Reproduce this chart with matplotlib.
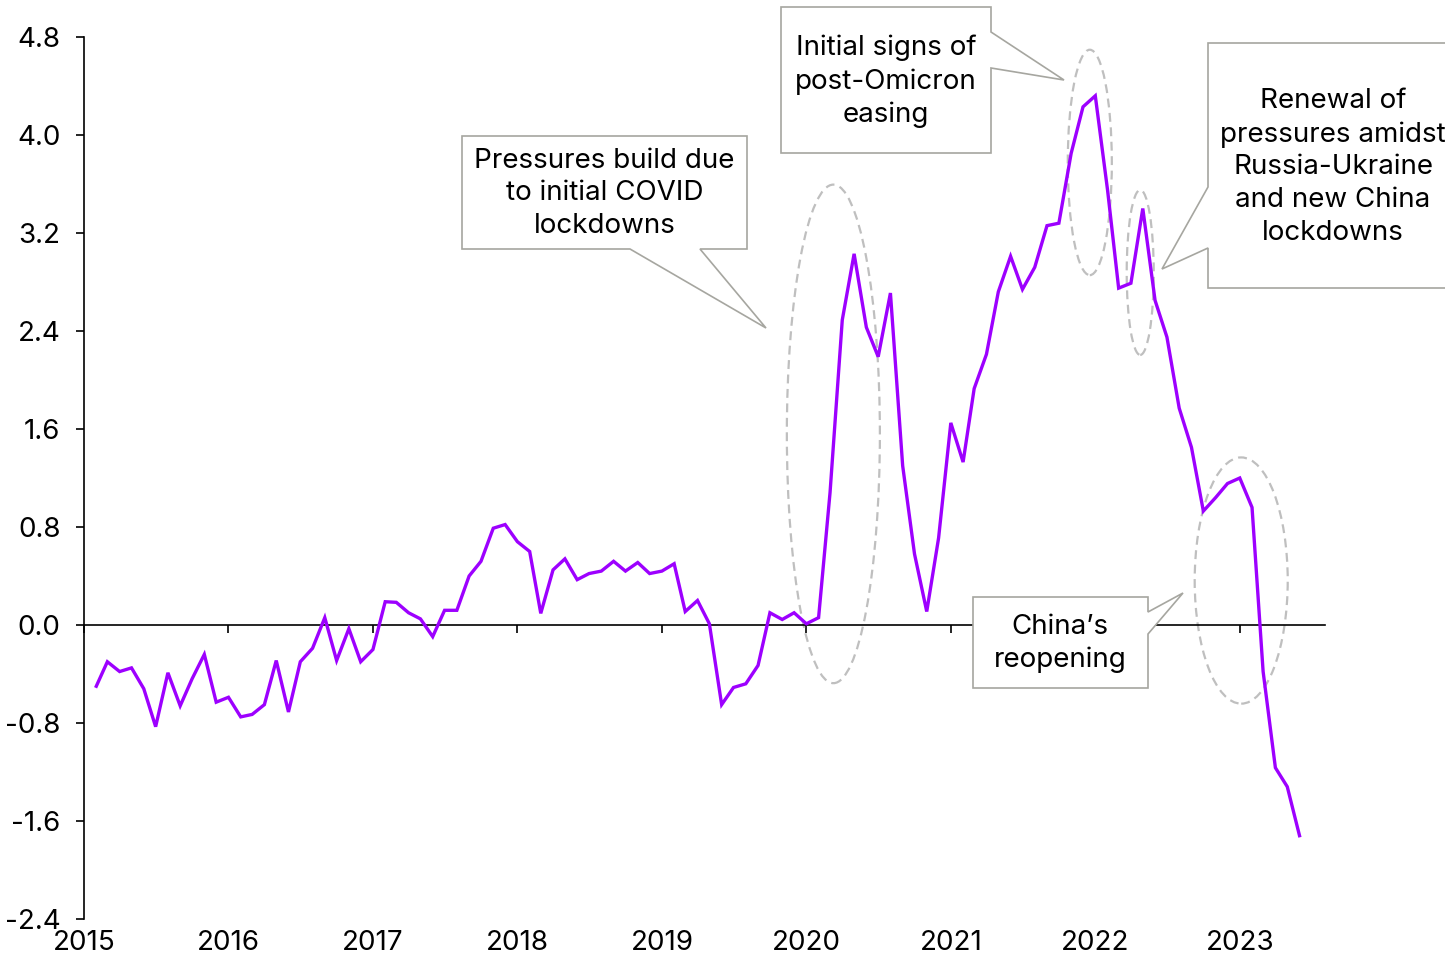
import matplotlib
matplotlib.use('Agg')
import matplotlib.pyplot as plt
from matplotlib.patches import Ellipse, Polygon
import numpy as np
import pandas as pd

plt.rcParams['font.family'] = ['Inter', 'DejaVu Sans']

# monthly index values, Jan 2015 - May 2023
values = [
    -0.50, -0.30, -0.38, -0.35, -0.52, -0.83, -0.39, -0.66, -0.44, -0.24, -0.63, -0.59,
    -0.75, -0.73, -0.65, -0.29, -0.71, -0.30, -0.19, 0.06, -0.29, -0.03, -0.30, -0.20,
    0.19, 0.185, 0.10, 0.05, -0.095, 0.12, 0.12, 0.40, 0.52, 0.79, 0.82, 0.68,
    0.60, 0.095, 0.45, 0.54, 0.37, 0.42, 0.44, 0.52, 0.44, 0.51, 0.42, 0.44,
    0.50, 0.11, 0.20, 0.01, -0.65, -0.51, -0.48, -0.33, 0.10, 0.045, 0.10, 0.01,
    0.06, 1.08, 2.49, 3.03, 2.43, 2.19, 2.71, 1.30, 0.58, 0.11, 0.71, 1.65,
    1.33, 1.93, 2.21, 2.72, 3.01, 2.74, 2.92, 3.26, 3.28, 3.85, 4.23, 4.32,
    3.55, 2.75, 2.79, 3.40, 2.65, 2.35, 1.77, 1.45, 0.93, 1.04, 1.155, 1.20,
    0.96, -0.38, -1.165, -1.32, -1.72,
]
dates = pd.date_range('2015-01-31', periods=len(values), freq='ME')
years = list(range(2015, 2024))
yticks = [-2.4, -1.6, -0.8, 0.0, 0.8, 1.6, 2.4, 3.2, 4.0, 4.8]

notes = [
    'Pressures build due\nto initial COVID\nlockdowns',
    'Initial signs of\npost-Omicron\neasing',
    'Renewal of\npressures amidst\nRussia-Ukraine\nand new China\nlockdowns',
    'China\u2019s\nreopening',
]

W, H = 1445, 957
x = dates.year + (dates.dayofyear) / np.where(dates.is_leap_year, 366, 365)

fig = plt.figure(figsize=(W / 100, H / 100), dpi=100)
ax = fig.add_axes([84 / W, 1 - 919 / H, (1325 - 84) / W, (919 - 37) / H])

ax.plot(x, values, color='#9d00ff', lw=2.4, zorder=3, solid_joinstyle='miter')

ax.set_xlim(2015, 2023.59)
ax.set_ylim(-2.4, 4.8)
ax.set_yticks(yticks)
ax.set_yticklabels([f'{v:.1f}' for v in yticks])
ax.set_xticks(years)
ax.tick_params(axis='x', labelbottom=False, direction='out', length=6, width=1.2)
ax.tick_params(axis='y', direction='out', length=6, width=1.2, pad=11, labelsize=20)
ax.spines['bottom'].set_position(('data', 0))
ax.spines['bottom'].set_linewidth(1.2)
ax.spines['left'].set_linewidth(1.2)
ax.spines['top'].set_visible(False)
ax.spines['right'].set_visible(False)

# year labels sit at the bottom, not on the zero line
sec = ax.secondary_xaxis('bottom')
sec.set_xticks(years)
sec.set_xticklabels([str(y) for y in years])
sec.tick_params(length=0, pad=8, labelsize=20)
sec.spines['bottom'].set_visible(False)

# dashed ellipses (centre x, centre y, width, height in data units)
for cx, cy, w, h in [(2020.187, 1.56, 0.644, 4.07), (2021.962, 3.776, 0.305, 1.84),
                     (2022.311, 2.878, 0.187, 1.347), (2023.010, 0.363, 0.644, 2.01)]:
    ax.add_patch(Ellipse((cx, cy), w, h, fill=False, ls=(0, (4, 2.5)), lw=1.6,
                         edgecolor='#bfbfbf', zorder=2))


def px(pts):
    return [(a / W, 1 - b / H) for a, b in pts]


callouts = [
    [(462, 136), (747, 136), (747, 249), (700, 249), (766, 328), (630, 249), (462, 249)],
    [(781, 7), (991, 7), (991, 32), (1064, 80), (991, 68), (991, 153), (781, 153)],
    [(1208, 43), (1460, 43), (1460, 288), (1208, 288), (1208, 248), (1162, 269), (1208, 187)],
    [(973, 597), (1148, 597), (1148, 612), (1183, 593), (1148, 634), (1148, 688), (973, 688)],
]
text_pos = [(604.5, 193.5), (886, 81.5), (1333, 167), (1060, 643.5)]

for poly, txt, (tx, ty) in zip(callouts, notes, text_pos):
    fig.patches.append(Polygon(px(poly), closed=True, transform=fig.transFigure,
                               facecolor='white', edgecolor='#a6a6a0', lw=1.2, zorder=5))
    fig.text(tx / W, 1 - ty / H, txt, ha='center', va='center', fontsize=20,
             linespacing=1.33, zorder=6)

fig.savefig('out.png', dpi=100)
